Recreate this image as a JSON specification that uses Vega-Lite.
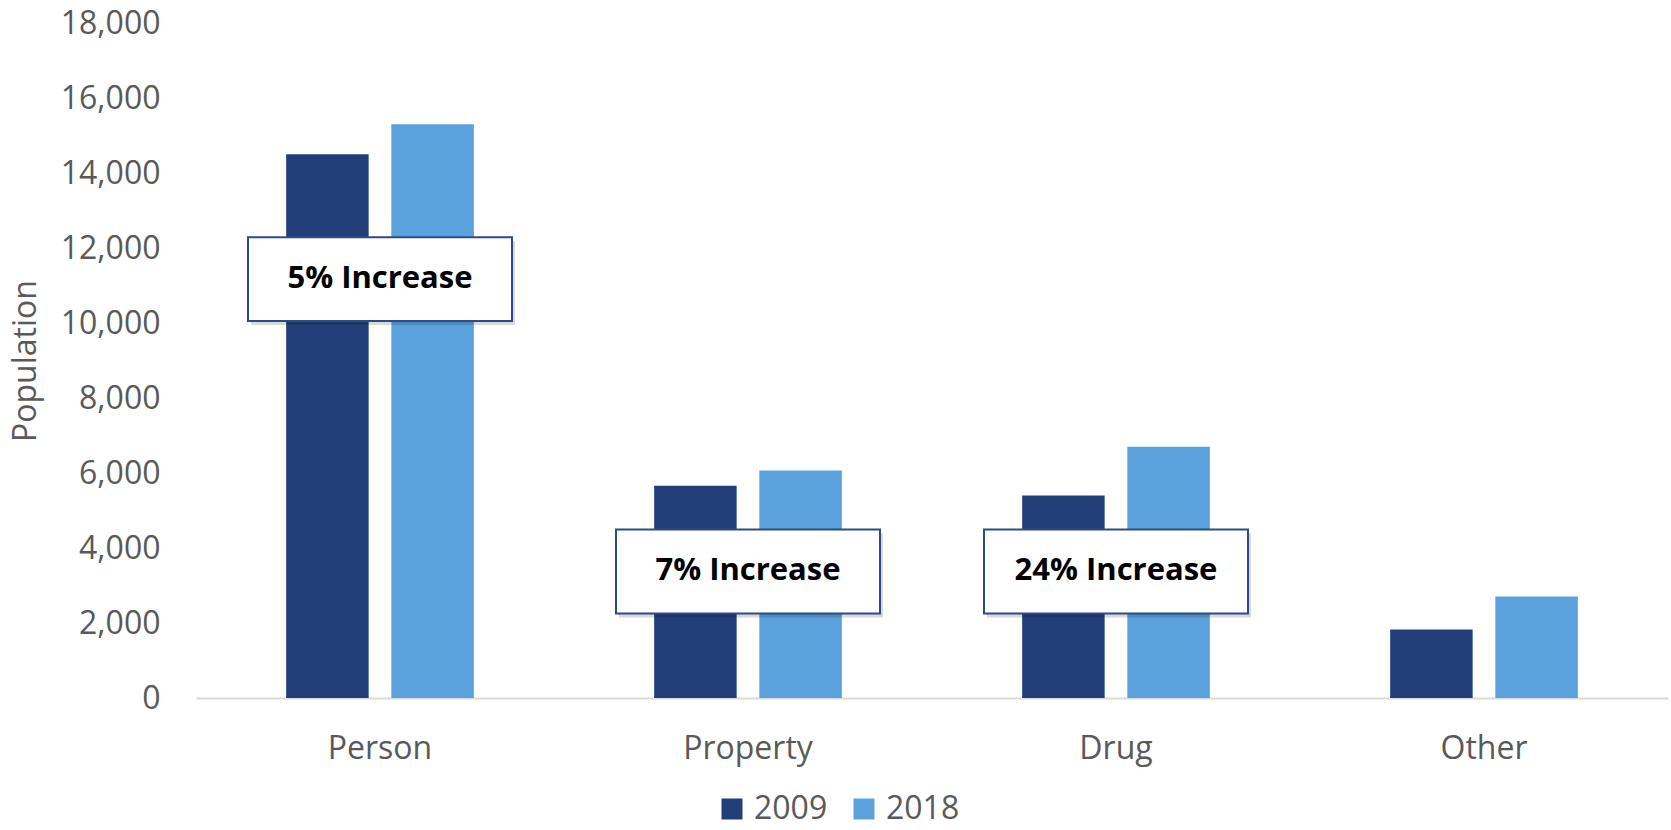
{
  "$schema": "https://vega.github.io/schema/vega-lite/v6.json",
  "width": 1472,
  "height": 675,
  "autosize": {"type": "none"},
  "padding": {"left": 196, "top": 23, "right": 3, "bottom": 132},
  "background": "white",
  "config": {
    "view": {"stroke": null},
    "font": "Open Sans"
  },
  "datasets": {
    "bars": [
      {"category": "Person", "year": "2009", "population": 14500},
      {"category": "Person", "year": "2018", "population": 15300},
      {"category": "Property", "year": "2009", "population": 5660},
      {"category": "Property", "year": "2018", "population": 6070},
      {"category": "Drug", "year": "2009", "population": 5400},
      {"category": "Drug", "year": "2018", "population": 6700},
      {"category": "Other", "year": "2009", "population": 1830},
      {"category": "Other", "year": "2018", "population": 2710}
    ],
    "notes": [
      {"category": "Person", "at": 11170, "label": "5% Increase"},
      {"category": "Property", "at": 3376, "label": "7% Increase"},
      {"category": "Drug", "at": 3376, "label": "24% Increase"}
    ]
  },
  "layer": [
    {
      "data": {"name": "bars"},
      "mark": {"type": "bar"},
      "encoding": {
        "x": {
          "field": "category", "type": "nominal",
          "sort": ["Person", "Property", "Drug", "Other"],
          "scale": {"paddingInner": 0.49, "paddingOuter": 0.245},
          "axis": {
            "title": null, "labelAngle": 0, "ticks": false, "tickSize": 0,
            "labelFont": "Open Sans", "labelFontSize": 32, "labelColor": "#595959",
            "labelBaseline": "alphabetic", "labelPadding": 60,
            "domainColor": "#D9D9D9", "domainWidth": 2, "grid": false
          }
        },
        "xOffset": {
          "field": "year", "type": "nominal",
          "scale": {"paddingInner": 0.2158, "paddingOuter": 0}
        },
        "y": {
          "field": "population", "type": "quantitative",
          "scale": {"domain": [0, 18000], "nice": false},
          "axis": {
            "title": "Population", "values": [0, 2000, 4000, 6000, 8000, 10000, 12000, 14000, 16000, 18000],
            "format": ",d", "grid": false, "domain": false, "ticks": false, "tickSize": 0,
            "labelFont": "Open Sans", "labelFontSize": 32, "labelColor": "#595959", "labelPadding": 36,
            "titleFont": "Open Sans", "titleFontSize": 32, "titleFontWeight": "normal", "titleColor": "#595959",
            "titleAngle": 270, "titleAlign": "center", "titleBaseline": "alphabetic",
            "titleX": -161, "titleY": 337.5
          }
        },
        "color": {
          "field": "year", "type": "nominal",
          "scale": {"domain": ["2009", "2018"], "range": ["#223F7A", "#5BA1DB"]},
          "legend": {
            "title": null, "orient": "none", "direction": "horizontal",
            "legendX": 520, "legendY": 770, "padding": 0,
            "symbolType": "square", "symbolSize": 441, "symbolStrokeWidth": 0,
            "labelFont": "Open Sans", "labelFontSize": 32, "labelColor": "#595959",
            "labelOffset": 6, "columnPadding": 20
          }
        }
      }
    },
    {
      "data": {"name": "notes"},
      "mark": {
        "type": "point", "filled": true, "shape": "M-1,-0.318L1,-0.318L1,0.318L-1,0.318Z",
        "size": 69696, "color": "#000000", "opacity": 0.15, "xOffset": 3, "yOffset": 4
      },
      "encoding": {
        "x": {"field": "category", "type": "nominal", "sort": ["Person", "Property", "Drug", "Other"]},
        "y": {"field": "at", "type": "quantitative"}
      }
    },
    {
      "data": {"name": "notes"},
      "mark": {
        "type": "point", "filled": true, "shape": "M-1,-0.318L1,-0.318L1,0.318L-1,0.318Z",
        "size": 69696, "fill": "#FFFFFF", "fillOpacity": 1, "opacity": 1, "stroke": "#2F4A8A", "strokeWidth": 2
      },
      "encoding": {
        "x": {"field": "category", "type": "nominal", "sort": ["Person", "Property", "Drug", "Other"]},
        "y": {"field": "at", "type": "quantitative"}
      }
    },
    {
      "data": {"name": "notes"},
      "mark": {
        "type": "text", "font": "Open Sans", "fontSize": 31, "fontWeight": "bold", "color": "#000000",
        "align": "center", "baseline": "middle"
      },
      "encoding": {
        "x": {"field": "category", "type": "nominal", "sort": ["Person", "Property", "Drug", "Other"]},
        "y": {"field": "at", "type": "quantitative"},
        "text": {"field": "label"}
      }
    }
  ]
}
